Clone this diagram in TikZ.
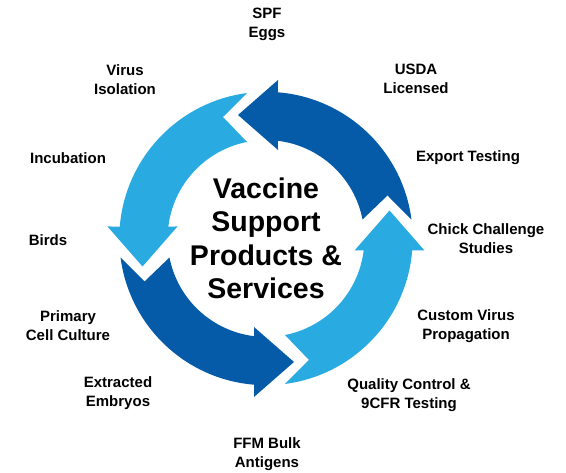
\documentclass[tikz,border=0pt]{standalone}
\usepackage{fontspec}
\setmainfont{Liberation Sans}
\definecolor{ringdark}{RGB}{5,91,168}
\definecolor{ringlight}{RGB}{41,171,226}

\begin{document}
\begin{tikzpicture}[x=1pt,y=-1pt,
    itemtext/.style={align=center,font=\fontsize{15}{19}\selectfont\bfseries},
    titletext/.style={align=center,font=\fontsize{28.5}{33.5}\selectfont\bfseries}]
    \useasboundingbox (0,0) rectangle (566,473);

    % Define the positions of the labels
    \coordinate (centrePos) at (266,238.5);
    \coordinate (eggsPos) at (267,24);
    \coordinate (usdaPos) at (416,79);
    \coordinate (exportPos) at (468,158);
    \coordinate (chickPos) at (486,239);
    \coordinate (customPos) at (466,326);
    \coordinate (qualityPos) at (409,395);
    \coordinate (ffmPos) at (267,454);
    \coordinate (embryoPos) at (118,393);
    \coordinate (cellPos) at (68,326);
    \coordinate (birdsPos) at (48,240);
    \coordinate (incubPos) at (68,158);
    \coordinate (isolPos) at (125,80);

    % Draw the ring of arrows
    \foreach \ang/\col in {0/ringdark,90/ringlight,180/ringdark,270/ringlight}{
        \begin{scope}[shift={(centrePos)},yscale=-1,rotate=\ang]
            \fill[\col] (7.44:146.7) arc[start angle=7.44,end angle=85.31,radius=146.7]
                -- (12,158.5) -- (-28,123.5) -- (12,88.5) -- (83:98.4)
                arc[start angle=83,end angle=11.14,radius=98.4] -- (121.5,43) -- cycle;
        \end{scope}
    }

    % Draw the labels
    \node[titletext] (title) at (centrePos) {Vaccine\\Support\\Products \&\\Services};
    \node[itemtext] (eggs) at (eggsPos) {SPF\\Eggs};
    \node[itemtext] (usda) at (usdaPos) {USDA\\Licensed};
    \node[itemtext] (export) at (exportPos) {Export Testing};
    \node[itemtext] (chick) at (chickPos) {Chick Challenge\\Studies};
    \node[itemtext] (custom) at (customPos) {Custom Virus\\Propagation};
    \node[itemtext] (quality) at (qualityPos) {Quality Control \&\\9CFR Testing};
    \node[itemtext] (ffm) at (ffmPos) {FFM Bulk\\Antigens};
    \node[itemtext] (embryo) at (embryoPos) {Extracted\\Embryos};
    \node[itemtext] (cell) at (cellPos) {Primary\\Cell Culture};
    \node[itemtext] (birds) at (birdsPos) {Birds};
    \node[itemtext] (incub) at (incubPos) {Incubation};
    \node[itemtext] (isol) at (isolPos) {Virus\\Isolation};
\end{tikzpicture}
\end{document}
